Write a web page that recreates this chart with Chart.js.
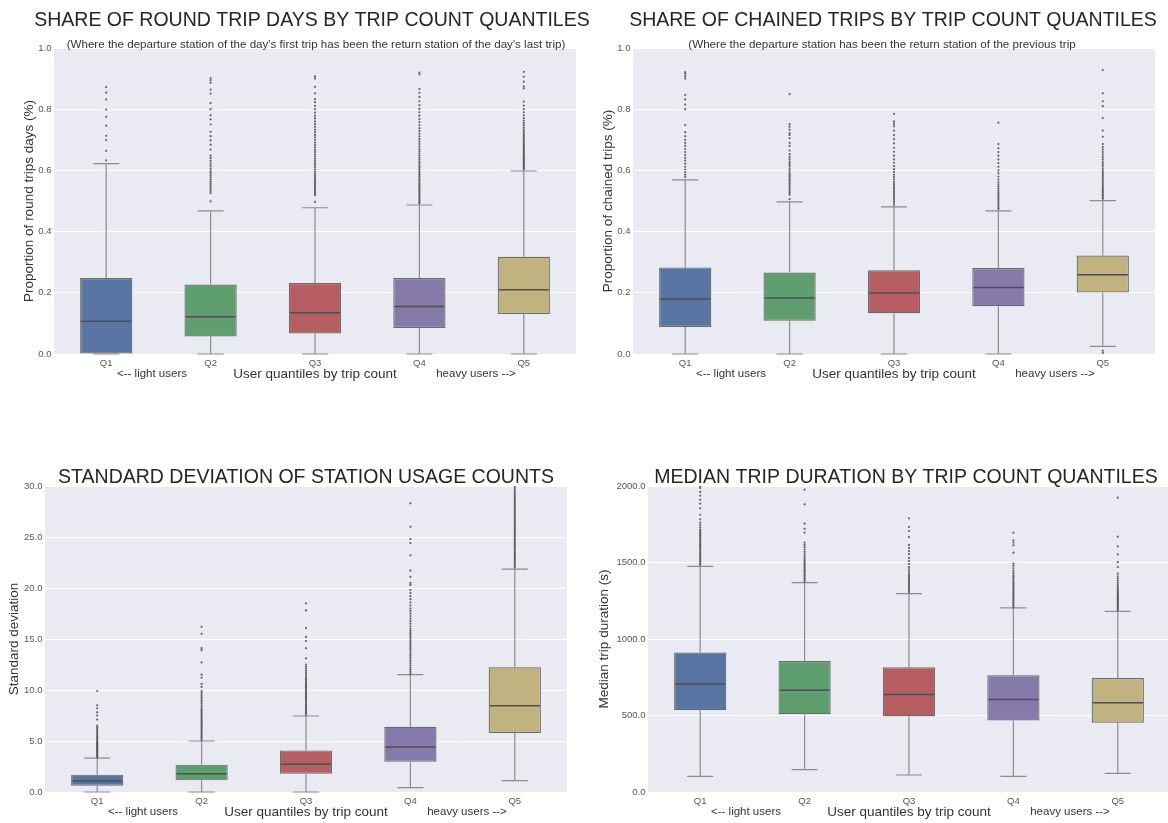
<!DOCTYPE html>
<html>
<head>
<meta charset="utf-8">
<script src="https://cdn.jsdelivr.net/npm/chart.js@4.4.1/dist/chart.umd.min.js"></script>
<style>
  html, body { margin: 0; padding: 0; background: #fff; overflow: hidden; width: 1168px; height: 823px; }
  canvas { position: absolute; left: 0; top: 0; }
</style>
</head>
<body>
<canvas id="roundTrips" width="1180" height="823"></canvas>
<canvas id="chainedTrips" width="1180" height="823"></canvas>
<canvas id="stationStd" width="1180" height="823"></canvas>
<canvas id="tripDuration" width="1180" height="823"></canvas>
<script>
// ---- categories ----
const quantiles = ['Q1', 'Q2', 'Q3', 'Q4', 'Q5'];

// ---- share of round trip days ----
const roundLow  = [0, 0, 0, 0, 0];
const roundQ1   = [0, 0.057, 0.067, 0.085, 0.131];
const roundMed  = [0.107, 0.122, 0.135, 0.155, 0.210];
const roundQ3   = [0.248, 0.227, 0.232, 0.248, 0.318];
const roundHigh = [0.622, 0.468, 0.478, 0.487, 0.598];
const roundOutQ1 = [0.633, 0.664, 0.699, 0.713, 0.746, 0.775, 0.799, 0.832, 0.854, 0.872];
const roundOutQ2 = [0.499, 0.526, 0.532, 0.538, 0.545, 0.551, 0.557, 0.563, 0.57, 0.577, 0.584, 0.591, 0.598, 0.606, 0.614, 0.622, 0.631, 0.64, 0.648, 0.668, 0.684, 0.698, 0.712, 0.726, 0.75, 0.767, 0.78, 0.8, 0.82, 0.851, 0.864, 0.886, 0.895, 0.902];
const roundOutQ3 = [0.497, 0.519, 0.524, 0.529, 0.534, 0.539, 0.544, 0.549, 0.555, 0.56, 0.566, 0.571, 0.577, 0.583, 0.589, 0.596, 0.603, 0.61, 0.617, 0.624, 0.631, 0.638, 0.645, 0.652, 0.66, 0.667, 0.675, 0.683, 0.691, 0.7, 0.708, 0.716, 0.725, 0.733, 0.742, 0.751, 0.76, 0.77, 0.779, 0.789, 0.8, 0.811, 0.823, 0.833, 0.852, 0.873, 0.9, 0.907];
const roundOutQ4 = [0.492, 0.497, 0.502, 0.507, 0.512, 0.517, 0.522, 0.527, 0.532, 0.537, 0.542, 0.547, 0.552, 0.557, 0.563, 0.568, 0.574, 0.58, 0.585, 0.591, 0.597, 0.603, 0.609, 0.615, 0.622, 0.628, 0.635, 0.642, 0.649, 0.656, 0.663, 0.67, 0.678, 0.686, 0.694, 0.702, 0.711, 0.72, 0.729, 0.738, 0.748, 0.758, 0.768, 0.779, 0.79, 0.801, 0.813, 0.826, 0.84, 0.854, 0.866, 0.914, 0.92];
const roundOutQ5 = [0.603, 0.607, 0.611, 0.615, 0.619, 0.623, 0.627, 0.631, 0.635, 0.639, 0.643, 0.647, 0.651, 0.655, 0.66, 0.664, 0.668, 0.673, 0.677, 0.682, 0.686, 0.691, 0.696, 0.701, 0.706, 0.711, 0.716, 0.722, 0.728, 0.734, 0.741, 0.748, 0.755, 0.763, 0.771, 0.78, 0.79, 0.8, 0.812, 0.825, 0.868, 0.875, 0.89, 0.906, 0.922];

// ---- share of chained trips ----
const chainLow  = [0, 0, 0, 0, 0.025];
const chainQ1   = [0.088, 0.109, 0.133, 0.156, 0.201];
const chainMed  = [0.180, 0.183, 0.199, 0.217, 0.259];
const chainQ3   = [0.283, 0.266, 0.274, 0.281, 0.322];
const chainHigh = [0.569, 0.497, 0.481, 0.468, 0.501];
const chainOutQ1 = [0.578, 0.586, 0.594, 0.603, 0.612, 0.622, 0.632, 0.641, 0.65, 0.66, 0.67, 0.68, 0.69, 0.7, 0.712, 0.725, 0.748, 0.8, 0.815, 0.832, 0.846, 0.9, 0.908, 0.916, 0.921];
const chainOutQ2 = [0.506, 0.521, 0.527, 0.533, 0.539, 0.545, 0.551, 0.557, 0.563, 0.569, 0.575, 0.581, 0.587, 0.593, 0.6, 0.607, 0.614, 0.621, 0.628, 0.636, 0.644, 0.653, 0.665, 0.68, 0.69, 0.705, 0.716, 0.722, 0.733, 0.743, 0.751, 0.849];
const chainOutQ3 = [0.487, 0.494, 0.5, 0.506, 0.512, 0.518, 0.524, 0.53, 0.536, 0.542, 0.548, 0.555, 0.562, 0.57, 0.578, 0.586, 0.595, 0.604, 0.614, 0.625, 0.636, 0.648, 0.661, 0.674, 0.688, 0.702, 0.715, 0.73, 0.744, 0.752, 0.76, 0.785];
const chainOutQ4 = [0.474, 0.48, 0.486, 0.492, 0.498, 0.504, 0.51, 0.516, 0.522, 0.528, 0.534, 0.54, 0.547, 0.554, 0.561, 0.57, 0.58, 0.59, 0.6, 0.612, 0.624, 0.636, 0.648, 0.66, 0.672, 0.686, 0.756];
const chainOutQ5 = [0.004, 0.011, 0.507, 0.512, 0.517, 0.522, 0.527, 0.532, 0.537, 0.542, 0.547, 0.552, 0.558, 0.564, 0.57, 0.576, 0.582, 0.588, 0.594, 0.6, 0.607, 0.614, 0.621, 0.628, 0.636, 0.644, 0.652, 0.66, 0.668, 0.676, 0.686, 0.71, 0.73, 0.771, 0.81, 0.826, 0.852, 0.928];

// ---- standard deviation of station usage counts ----
const stdLow  = [0, 0, 0, 0.42, 1.11];
const stdQ1   = [0.62, 1.14, 1.80, 2.97, 5.78];
const stdMed  = [1.08, 1.80, 2.71, 4.41, 8.46];
const stdQ3   = [1.70, 2.68, 4.08, 6.40, 12.22];
const stdHigh = [3.33, 5.0, 7.45, 11.5, 21.86];
const stdOutQ1 = [3.4, 3.5, 3.6, 3.7, 3.8, 3.9, 4.0, 4.1, 4.2, 4.3, 4.4, 4.5, 4.6, 4.7, 4.8, 4.9, 5.0, 5.15, 5.3, 5.45, 5.6, 5.75, 5.9, 6.05, 6.2, 6.35, 6.5, 7.1, 7.5, 7.8, 8.2, 8.5, 9.9];
const stdOutQ2 = [5.1, 5.25, 5.4, 5.55, 5.7, 5.85, 6.0, 6.15, 6.3, 6.45, 6.6, 6.75, 6.9, 7.05, 7.2, 7.35, 7.5, 7.65, 7.8, 7.95, 8.1, 8.3, 8.5, 8.7, 8.9, 9.1, 9.3, 9.5, 9.7, 9.9, 10.3, 10.6, 11.2, 11.5, 12.7, 13.9, 14.1, 15.5, 16.2];
const stdOutQ3 = [7.55, 7.7, 7.85, 8.0, 8.15, 8.3, 8.45, 8.6, 8.75, 8.9, 9.05, 9.2, 9.35, 9.5, 9.65, 9.8, 9.95, 10.1, 10.25, 10.4, 10.55, 10.7, 10.85, 11.0, 11.15, 11.3, 11.5, 11.7, 11.9, 12.1, 12.3, 12.5, 13.1, 14.1, 14.8, 15.2, 16.1, 17.8, 18.5];
const stdOutQ4 = [11.6, 11.8, 12.0, 12.2, 12.4, 12.6, 12.8, 13.0, 13.2, 13.4, 13.6, 13.8, 14.0, 14.2, 14.4, 14.6, 14.8, 15.0, 15.2, 15.4, 15.6, 15.8, 16.0, 16.25, 16.5, 16.75, 17.0, 17.25, 17.5, 17.75, 18.0, 18.3, 18.6, 18.9, 19.2, 19.5, 19.8, 20.3, 20.5, 21.1, 21.7, 23.2, 24.4, 24.8, 26.0, 28.3];
const stdOutQ5 = [22.0, 22.15, 22.3, 22.45, 22.6, 22.75, 22.9, 23.05, 23.2, 23.35, 23.5, 23.65, 23.8, 23.95, 24.1, 24.25, 24.4, 24.55, 24.7, 24.85, 25.0, 25.15, 25.3, 25.45, 25.6, 25.75, 25.9, 26.05, 26.2, 26.35, 26.5, 26.65, 26.8, 26.95, 27.1, 27.25, 27.4, 27.55, 27.7, 27.85, 28.0, 28.15, 28.3, 28.45, 28.6, 28.75, 28.9, 29.1, 29.3, 29.5, 29.7, 29.9];

// ---- median trip duration (s) ----
const durLow  = [102, 146, 111, 102, 122];
const durQ1   = [534, 508, 495, 468, 453];
const durMed  = [706, 665, 638, 604, 584];
const durQ3   = [911, 856, 815, 763, 745];
const durHigh = [1475, 1368, 1296, 1203, 1181];
const durOutQ1 = [1485, 1495, 1505, 1515, 1525, 1535, 1545, 1555, 1565, 1575, 1585, 1595, 1605, 1615, 1625, 1635, 1645, 1655, 1665, 1675, 1685, 1695, 1705, 1715, 1730, 1745, 1760, 1782, 1812, 1854, 1885, 1910, 1937, 1961, 1987, 1998];
const durOutQ2 = [1375, 1385, 1395, 1405, 1415, 1425, 1435, 1445, 1455, 1465, 1475, 1485, 1495, 1505, 1515, 1528, 1541, 1555, 1570, 1585, 1600, 1615, 1630, 1695, 1720, 1754, 1880, 1976];
const durOutQ3 = [1305, 1315, 1325, 1335, 1345, 1355, 1365, 1375, 1385, 1395, 1405, 1415, 1425, 1440, 1455, 1470, 1490, 1510, 1530, 1555, 1575, 1595, 1615, 1667, 1706, 1732, 1789];
const durOutQ4 = [1210, 1220, 1230, 1240, 1250, 1260, 1270, 1280, 1290, 1300, 1310, 1320, 1330, 1340, 1350, 1360, 1370, 1382, 1394, 1406, 1418, 1432, 1446, 1462, 1478, 1492, 1564, 1612, 1630, 1645, 1695];
const durOutQ5 = [1188, 1196, 1204, 1212, 1220, 1228, 1236, 1244, 1252, 1260, 1268, 1276, 1284, 1292, 1300, 1310, 1320, 1330, 1342, 1355, 1368, 1382, 1396, 1410, 1427, 1470, 1503, 1553, 1605, 1669, 1924];

// ---- y axis ranges / tick steps ----
const shareTicks = { max: 1.0, step: 0.2 };
const stdTicks   = { max: 30, step: 5 };
const durTicks   = { max: 2000, step: 500 };

// ---- texts ----
const xAxisTitle = 'User quantiles by trip count';
const lightNote = '<-- light users';
const heavyNote = 'heavy users -->';

// ---- styling ----
const FONT = "'Liberation Sans', Arial, Helvetica, sans-serif";
const boxColors = ['#5875A3', '#5F9E6E', '#B55D60', '#857AAA', '#C1B37F'];
const Y_AXIS_W = 40;
const X_AXIS_H = 20;
const CANVAS_W = 1180, CANVAS_H = 823;

Chart.defaults.font.family = FONT;

function boxChart(canvasId, stats, ticks, frame, text) {
  const outlierPoints = [];
  stats.outliers.forEach((list, i) => list.forEach(v => outlierPoints.push({ x: quantiles[i], y: v })));

  const boxDecor = {
    id: 'boxDecor',
    beforeDraw(chart) {
      const { ctx, chartArea: a } = chart;
      ctx.save();
      ctx.fillStyle = '#EAEAF2';
      ctx.fillRect(a.left, a.top, a.right - a.left, a.bottom - a.top);
      ctx.restore();
    },
    beforeDatasetsDraw(chart) {
      // whiskers and caps
      const { ctx, scales: { x, y } } = chart;
      const bars = chart.getDatasetMeta(0).data;
      ctx.save();
      ctx.strokeStyle = '#8c8c8c';
      ctx.lineWidth = 1.2;
      quantiles.forEach((q, i) => {
        const cx = x.getPixelForValue(i);
        const half = bars[i].width / 4;
        const yLo = y.getPixelForValue(stats.low[i]);
        const yHi = y.getPixelForValue(stats.high[i]);
        const yQ1 = y.getPixelForValue(stats.q1[i]);
        const yQ3 = y.getPixelForValue(stats.q3[i]);
        ctx.beginPath();
        ctx.moveTo(cx, yQ3); ctx.lineTo(cx, yHi);
        ctx.moveTo(cx - half, yHi); ctx.lineTo(cx + half, yHi);
        ctx.moveTo(cx, yQ1); ctx.lineTo(cx, yLo);
        ctx.moveTo(cx - half, yLo); ctx.lineTo(cx + half, yLo);
        ctx.stroke();
      });
      ctx.restore();
    },
    afterDatasetsDraw(chart) {
      // median lines
      const { ctx, scales: { y } } = chart;
      const bars = chart.getDatasetMeta(0).data;
      ctx.save();
      ctx.strokeStyle = '#4f4f4f';
      ctx.lineWidth = 1.5;
      bars.forEach((bar, i) => {
        const ym = y.getPixelForValue(stats.med[i]);
        ctx.beginPath();
        ctx.moveTo(bar.x - bar.width / 2 + 1, ym);
        ctx.lineTo(bar.x + bar.width / 2 - 1, ym);
        ctx.stroke();
      });
      ctx.restore();
    },
    afterDraw(chart) {
      const { ctx, chartArea: a } = chart;
      const cx = (a.left + a.right) / 2;
      const cy = (a.top + a.bottom) / 2;
      ctx.save();
      ctx.textAlign = 'center';
      ctx.textBaseline = 'alphabetic';
      ctx.fillStyle = '#262626';
      ctx.font = `19.5px ${FONT}`;
      ctx.fillText(text.title, cx + text.titleDx, text.titleBase);
      if (text.sub) {
        ctx.fillStyle = '#333';
        ctx.font = `11.6px ${FONT}`;
        ctx.fillText(text.sub, text.subX, text.subBase);
      }
      ctx.fillStyle = '#333';
      ctx.font = `13.5px ${FONT}`;
      ctx.fillText(xAxisTitle, cx, a.bottom + 24);
      ctx.font = `11.5px ${FONT}`;
      ctx.fillText(lightNote, a.left + 98, a.bottom + 22.5);
      ctx.fillText(heavyNote, a.left + 422, a.bottom + 22.5);
      ctx.translate(text.yTitleX, cy);
      ctx.rotate(-Math.PI / 2);
      ctx.textBaseline = 'middle';
      ctx.font = `13.5px ${FONT}`;
      ctx.fillText(text.yTitle, 0, 0);
      ctx.restore();
    }
  };

  return new Chart(document.getElementById(canvasId), {
    type: 'bar',
    data: {
      labels: quantiles,
      datasets: [
        {
          type: 'bar',
          data: quantiles.map((q, i) => [stats.q1[i], stats.q3[i]]),
          backgroundColor: boxColors,
          borderColor: '#6a6a6a',
          borderWidth: 1.2,
          borderSkipped: false,
          barPercentage: 0.5,
          categoryPercentage: 1.0,
          order: 2
        },
        {
          type: 'line',
          data: outlierPoints,
          showLine: false,
          pointRadius: 1.1,
          pointBorderWidth: 0,
          pointBackgroundColor: 'rgba(75,75,75,0.85)',
          order: 1
        }
      ]
    },
    options: {
      responsive: false,
      animation: false,
      events: [],
      layout: {
        padding: {
          left: frame.left - Y_AXIS_W,
          top: frame.top,
          right: CANVAS_W - frame.right,
          bottom: CANVAS_H - frame.bottom - X_AXIS_H
        }
      },
      scales: {
        x: {
          grid: { display: false, drawTicks: false },
          border: { display: false },
          ticks: { color: '#555', font: { size: 9.5 }, padding: 3.5, maxRotation: 0 },
          afterFit(scale) { scale.height = X_AXIS_H; }
        },
        y: {
          min: 0,
          max: ticks.max,
          grid: { color: '#ffffff', lineWidth: 1, drawTicks: false },
          border: { display: false },
          ticks: {
            stepSize: ticks.step,
            color: '#555',
            font: { size: 9.5 },
            padding: 2.5,
            callback: v => Number(v).toFixed(1)
          },
          afterFit(scale) { scale.width = Y_AXIS_W; }
        }
      },
      plugins: { legend: { display: false }, tooltip: { enabled: false } }
    },
    plugins: [boxDecor]
  });
}

boxChart('roundTrips',
  { low: roundLow, q1: roundQ1, med: roundMed, q3: roundQ3, high: roundHigh,
    outliers: [roundOutQ1, roundOutQ2, roundOutQ3, roundOutQ4, roundOutQ5] },
  shareTicks,
  { left: 54, right: 576, top: 48, bottom: 354 },
  { title: 'SHARE OF ROUND TRIP DAYS BY TRIP COUNT QUANTILES', titleDx: -3, titleBase: 26,
    sub: "(Where the departure station of the day's first trip has been the return station of the day's last trip)",
    subX: 316, subBase: 48,
    yTitle: 'Proportion of round trips days (%)', yTitleX: 29 });

boxChart('chainedTrips',
  { low: chainLow, q1: chainQ1, med: chainMed, q3: chainQ3, high: chainHigh,
    outliers: [chainOutQ1, chainOutQ2, chainOutQ3, chainOutQ4, chainOutQ5] },
  shareTicks,
  { left: 633, right: 1155, top: 48, bottom: 354 },
  { title: 'SHARE OF CHAINED TRIPS BY TRIP COUNT QUANTILES', titleDx: -1, titleBase: 26,
    sub: '(Where the departure station has been the return station of the previous trip',
    subX: 882, subBase: 48,
    yTitle: 'Proportion of chained trips (%)', yTitleX: 608 });

boxChart('stationStd',
  { low: stdLow, q1: stdQ1, med: stdMed, q3: stdQ3, high: stdHigh,
    outliers: [stdOutQ1, stdOutQ2, stdOutQ3, stdOutQ4, stdOutQ5] },
  stdTicks,
  { left: 45, right: 567, top: 486, bottom: 792 },
  { title: 'STANDARD DEVIATION OF STATION USAGE COUNTS', titleDx: 0, titleBase: 483,
    yTitle: 'Standard deviation', yTitleX: 14 });

boxChart('tripDuration',
  { low: durLow, q1: durQ1, med: durMed, q3: durQ3, high: durHigh,
    outliers: [durOutQ1, durOutQ2, durOutQ3, durOutQ4, durOutQ5] },
  durTicks,
  { left: 648, right: 1170, top: 486, bottom: 792 },
  { title: 'MEDIAN TRIP DURATION BY TRIP COUNT QUANTILES', titleDx: -3, titleBase: 483,
    yTitle: 'Median trip duration (s)', yTitleX: 604.5 });
</script>
</body>
</html>
